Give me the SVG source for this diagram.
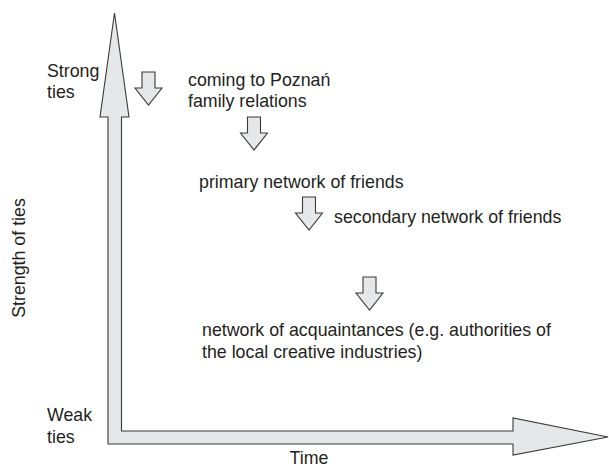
<svg xmlns="http://www.w3.org/2000/svg" width="609" height="469" viewBox="0 0 609 469">
<style>
.t{font-family:"Liberation Sans",Arial,sans-serif;font-size:17.8px;fill:#231f20}
.ar{fill:#e6e7e8;stroke:#3a3a3a;stroke-width:1.1;stroke-linejoin:miter}
</style>
<defs>
<path id="da" d="M-6.5,0 H6.5 V16 H13.5 L0,33 L-13.5,16 H-6.5 Z"/>
</defs>
<rect width="609" height="469" fill="#fff"/>
<g id="axes">
<polygon class="ar" points="114.5,13 129,117 121.5,117 121.5,431 513,431 513,418 608,437 513,455 513,444 108,444 108,117 100,117"/>
</g>
<g id="connectors">
<use href="#da" class="ar" x="148.5" y="72"/>
<use href="#da" class="ar" x="254" y="117"/>
<use href="#da" class="ar" x="309" y="197"/>
<use href="#da" class="ar" x="369.5" y="277"/>
</g>
<g id="strong"><text class="t" x="47" y="77">Strong</text><text class="t" x="47" y="98">ties</text></g>
<g id="weak"><text class="t" x="47" y="421">Weak</text><text class="t" x="47" y="443">ties</text></g>
<g id="time"><text class="t" x="309" y="464" text-anchor="middle">Time</text></g>
<g id="ylabel"><text class="t" transform="translate(25,258) rotate(-90)" text-anchor="middle">Strength of ties</text></g>
<g id="n1"><text class="t" x="188" y="86">coming to Poznań</text><text class="t" x="188" y="107">family relations</text></g>
<g id="n2"><text class="t" x="199" y="188">primary network of friends</text></g>
<g id="n3"><text class="t" x="334" y="223">secondary network of friends</text></g>
<g id="n4"><text class="t" x="202" y="336">network of acquaintances (e.g. authorities of</text><text class="t" x="202" y="358">the local creative industries)</text></g>
</svg>
